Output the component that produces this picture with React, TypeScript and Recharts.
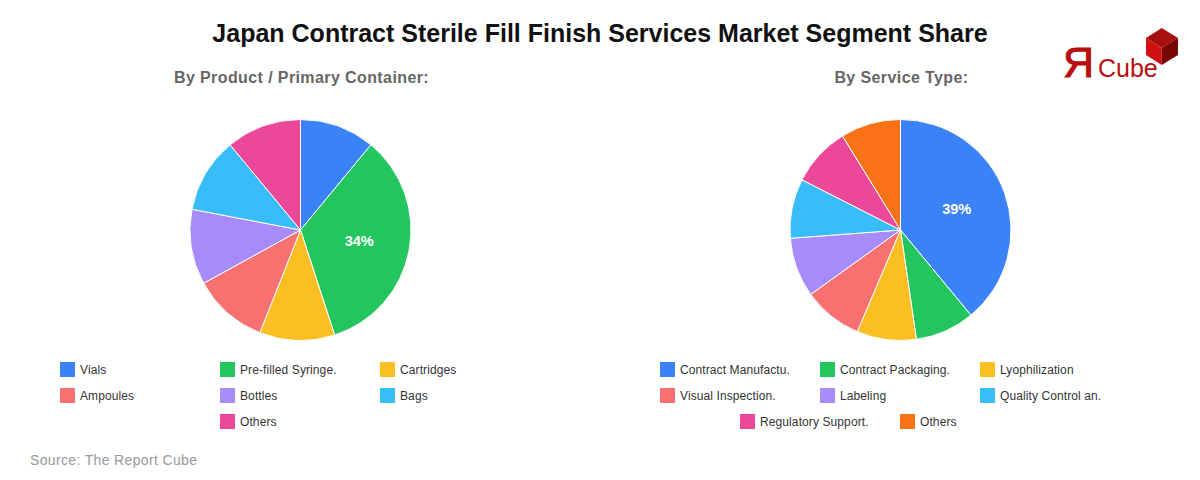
import { PieChart, Pie, Cell } from 'recharts';

const FONT = '"Liberation Sans", Arial, sans-serif';

const productNames = ['Vials', 'Pre-filled Syringe.', 'Cartridges', 'Ampoules', 'Bottles', 'Bags', 'Others'];
const productValues = [11, 34, 11, 11, 11, 11, 11];

const serviceNames = [
  'Contract Manufactu.', 'Contract Packaging.', 'Lyophilization', 'Visual Inspection.',
  'Labeling', 'Quality Control an.', 'Regulatory Support.', 'Others',
];
const serviceValues = [39, 8.7, 8.7, 8.7, 8.7, 8.7, 8.7, 8.8];

const colors = ['#3b82f6', '#22c55e', '#fbbf24', '#f87171', '#a78bfa', '#38bdf8', '#ec4899', '#f97316'];

const RADIAN = Math.PI / 180;

// only the big slice carries a percentage
const renderLabel = ({ cx, cy, midAngle, outerRadius, percent }: any) => {
  if (percent < 0.2) return null;
  const r = outerRadius * 0.55;
  return (
    <text
      x={cx + r * Math.cos(-midAngle * RADIAN) - 1}
      y={cy + r * Math.sin(-midAngle * RADIAN) - 0.5}
      fill="#fff"
      fontSize={14.5}
      fontWeight="bold"
      fontFamily={FONT}
      textAnchor="middle"
      dominantBaseline="central"
    >
      {`${Math.round(percent * 100)}%`}
    </text>
  );
};

function SharePie({ names, values, left }: { names: string[]; values: number[]; left: number }) {
  const data = names.map((name, i) => ({ name, value: values[i] }));
  return (
    <div style={{ position: 'absolute', left, top: 110, width: 242, height: 240 }}>
      <PieChart width={242} height={240} margin={{ top: 0, right: 0, bottom: 0, left: 0 }}>
        <Pie
          data={data}
          dataKey="value"
          cx={120.5}
          cy={120}
          outerRadius={110.5}
          startAngle={90}
          endAngle={-270}
          stroke="#fff"
          strokeWidth={1}
          label={renderLabel}
          labelLine={false}
          isAnimationActive={false}
        >
          {data.map((d, i) => <Cell key={d.name} fill={colors[i]} />)}
        </Pie>
      </PieChart>
    </div>
  );
}

function ShareLegend({ names, left }: { names: string[]; left: number }) {
  return (
    <div style={{ position: 'absolute', left, top: 356, width: 480, display: 'flex', flexWrap: 'wrap', justifyContent: 'center' }}>
      {names.map((name, i) => (
        <div key={name} style={{ width: 160, height: 26, display: 'flex', alignItems: 'center', fontSize: 12, letterSpacing: 0.1, color: '#333' }}>
          <span style={{ width: 15, height: 15, marginRight: 5, backgroundColor: colors[i] }} />
          <span style={{ position: 'relative', top: 0.5 }}>{name}</span>
        </div>
      ))}
    </div>
  );
}

const Logo = () => (
  <svg width={1200} height={100} style={{ position: 'absolute', left: 0, top: 0 }}>
    <polygon points="1161.7,28 1178,38 1161.7,48 1146,38" fill="#a80f0f" />
    <polygon points="1146,38 1161.7,48 1161.7,65 1146,55" fill="#d01010" />
    <polygon points="1178,38 1161.7,48 1161.7,65 1178,55" fill="#7a0505" />
    <text x={1094} y={77} fontSize={43} stroke="#b80f0f" strokeWidth={1} fill="#b80f0f" fontFamily={FONT} textAnchor="end">Я</text>
    <text x={1098} y={77} fontSize={25} fill="#b80f0f" fontFamily={FONT}>Cube</text>
  </svg>
);

export default function App() {
  return (
    <div style={{ position: 'absolute', left: 0, top: 0, width: 1200, height: 480, background: '#fff', fontFamily: FONT, overflow: 'hidden' }}>
      <div style={{ position: 'absolute', left: 0, top: 18, width: 1200, textAlign: 'center', fontSize: 25, lineHeight: '30px', fontWeight: 'bold', color: '#111' }}>
        Japan Contract Sterile Fill Finish Services Market Segment Share
      </div>
      <Logo />
      <div style={{ position: 'absolute', left: 0, top: 68, width: 603, textAlign: 'center', fontSize: 16, letterSpacing: 0.4, lineHeight: '20px', fontWeight: 'bold', color: '#666' }}>
        By Product / Primary Container:
      </div>
      <div style={{ position: 'absolute', left: 600, top: 68, width: 603, textAlign: 'center', fontSize: 16, letterSpacing: 0.4, lineHeight: '20px', fontWeight: 'bold', color: '#666' }}>
        By Service Type:
      </div>
      <SharePie names={productNames} values={productValues} left={180} />
      <SharePie names={serviceNames} values={serviceValues} left={780} />
      <ShareLegend names={productNames} left={60} />
      <ShareLegend names={serviceNames} left={660} />
      <div style={{ position: 'absolute', left: 30, top: 451, fontSize: 14, letterSpacing: 0.35, lineHeight: '18px', color: '#999' }}>
        Source: The Report Cube
      </div>
    </div>
  );
}
